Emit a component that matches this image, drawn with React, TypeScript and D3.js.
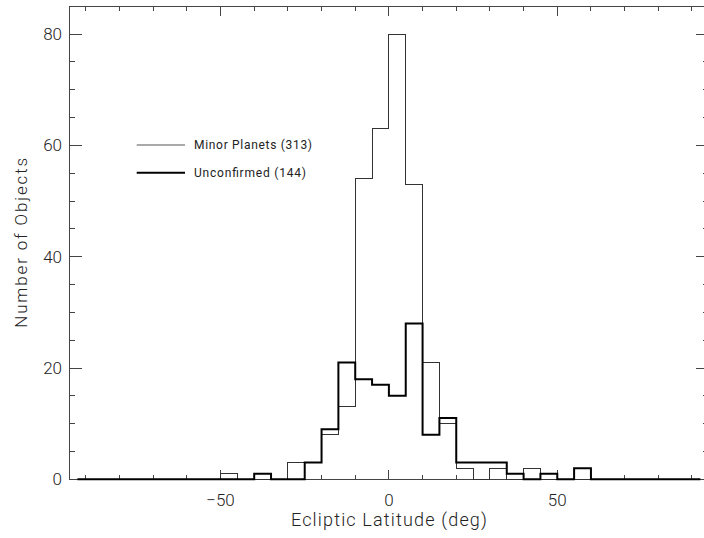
import React from "react";
import * as d3 from "d3";

// Histogram bins: 5-degree bins of ecliptic latitude, bin centres from -92.5 to 92.5
const binCenters: number[] = [
  -92.5, -87.5, -82.5, -77.5, -72.5, -67.5, -62.5, -57.5, -52.5, -47.5,
  -42.5, -37.5, -32.5, -27.5, -22.5, -17.5, -12.5, -7.5, -2.5, 2.5,
  7.5, 12.5, 17.5, 22.5, 27.5, 32.5, 37.5, 42.5, 47.5, 52.5,
  57.5, 62.5, 67.5, 72.5, 77.5, 82.5, 87.5, 92.5,
];
const minorPlanets: number[] = [
  0, 0, 0, 0, 0, 0, 0, 0, 0, 1,
  0, 0, 0, 3, 3, 8, 13, 54, 63, 80,
  53, 21, 10, 2, 0, 2, 0, 2, 0, 0,
  0, 0, 0, 0, 0, 0, 0, 0,
];
const unconfirmed: number[] = [
  0, 0, 0, 0, 0, 0, 0, 0, 0, 0,
  0, 1, 0, 0, 3, 9, 21, 18, 17, 15,
  28, 8, 11, 3, 3, 3, 1, 0, 1, 0,
  2, 0, 0, 0, 0, 0, 0, 0,
];
const xMajorTicks: number[] = [-50, 0, 50];
const xMinorTicks: number[] = [-90, -80, -70, -60, -40, -30, -20, -10, 10, 20, 30, 40, 60, 70, 80, 90];
const yMajorTicks: number[] = [0, 20, 40, 60, 80];
const yMinorTicks: number[] = [5, 10, 15, 25, 30, 35, 45, 50, 55, 65, 70, 75, 85];
const xTickLabels: string[] = ["\u221250", "0", "50"];
const yTickLabels: string[] = ["0", "20", "40", "60", "80"];
const legendLabels: string[] = ["Minor Planets (313)", "Unconfirmed (144)"];
const xTitle = "Ecliptic Latitude (deg)";
const yTitle = "Number of Objects";

const W = 704;
const H = 538;
const L = 69;
const R = 708.8;
const T = 6.3;
const B = 479.3;

const FONT = "Roboto, 'Liberation Sans', 'DejaVu Sans', sans-serif";
const AX = "#444";

export default function App() {
  const x = d3.scaleLinear().domain([-95, 95]).range([L, R]);
  const y = d3.scaleLinear().domain([0, 85]).range([B, T]);

  const line = d3
    .line<[number, number]>()
    .x((d) => x(d[0]))
    .y((d) => y(d[1]))
    .curve(d3.curveStep);

  const minorPath = line(binCenters.map((c, i) => [c, minorPlanets[i]] as [number, number])) || "";
  const unconfPath = line(binCenters.map((c, i) => [c, unconfirmed[i]] as [number, number])) || "";

  const xMajLen = 9.5;
  const xMinLen = 4.7;
  const yMajLen = 12.5;
  const yMinLen = 6.2;

  return (
    <svg
      width={W}
      height={H}
      style={{ position: "absolute", left: 0, top: 0, background: "#fff" }}
      fontFamily={FONT}
    >
      <rect x={0} y={0} width={W} height={H} fill="#fff" />
      {/* frame */}
      <g stroke={AX} strokeWidth={1} fill="none" shapeRendering="crispEdges">
        <line x1={L} y1={T} x2={R} y2={T} />
        <line x1={L} y1={B} x2={R} y2={B} />
        <line x1={L} y1={T} x2={L} y2={B} />
        <line x1={R} y1={T} x2={R} y2={B} />
        {xMajorTicks.map((t) => (
          <g key={"xM" + t}>
            <line x1={x(t)} x2={x(t)} y1={B} y2={B - xMajLen} />
            <line x1={x(t)} x2={x(t)} y1={T} y2={T + xMajLen} />
          </g>
        ))}
        {xMinorTicks.map((t) => (
          <g key={"xm" + t}>
            <line x1={x(t)} x2={x(t)} y1={B} y2={B - xMinLen} />
            <line x1={x(t)} x2={x(t)} y1={T} y2={T + xMinLen} />
          </g>
        ))}
        {yMajorTicks.map((t) => (
          <g key={"yM" + t}>
            <line x1={L} x2={L + yMajLen} y1={y(t)} y2={y(t)} />
            <line x1={R} x2={R - yMajLen} y1={y(t)} y2={y(t)} />
          </g>
        ))}
        {yMinorTicks.map((t) => (
          <g key={"ym" + t}>
            <line x1={L} x2={L + yMinLen} y1={y(t)} y2={y(t)} />
            <line x1={R} x2={R - yMinLen} y1={y(t)} y2={y(t)} />
          </g>
        ))}
      </g>

      {/* histograms */}
      <path d={minorPath} fill="none" stroke="#333" strokeWidth={1} shapeRendering="crispEdges" />
      <path d={unconfPath} fill="none" stroke="#000" strokeWidth={2} />

      {/* tick labels */}
      <g fill="#222" fontSize={17} fontWeight={300}>
        {xMajorTicks.map((t, i) => (
          <text key={"xl" + t} x={x(t)} y={506} textAnchor="middle">
            {xTickLabels[i]}
          </text>
        ))}
        {yMajorTicks.map((t, i) => (
          <text key={"yl" + t} x={62} y={y(t) + 6} textAnchor="end">
            {yTickLabels[i]}
          </text>
        ))}
      </g>

      {/* axis titles */}
      <text
        x={x(0)}
        y={526}
        textAnchor="middle"
        fontSize={18}
        fontWeight={300}
        fill="#222"
        textLength={196}
        lengthAdjust="spacing"
      >
        {xTitle}
      </text>
      <text
        transform={`translate(26.5, ${(T + B) / 2}) rotate(-90)`}
        textAnchor="middle"
        fontSize={17}
        fontWeight={300}
        fill="#222"
        textLength={170}
        lengthAdjust="spacing"
      >
        {yTitle}
      </text>

      {/* legend */}
      <line x1={136.7} x2={185} y1={145} y2={145} stroke="#555" strokeWidth={1.2} />
      <text x={194} y={149.3} fontSize={12} fill="#222" textLength={118} lengthAdjust="spacing">
        {legendLabels[0]}
      </text>
      <line x1={136.7} x2={185} y1={172.7} y2={172.7} stroke="#000" strokeWidth={2} />
      <text x={194} y={176.7} fontSize={12} fill="#222" textLength={112} lengthAdjust="spacing">
        {legendLabels[1]}
      </text>
    </svg>
  );
}
